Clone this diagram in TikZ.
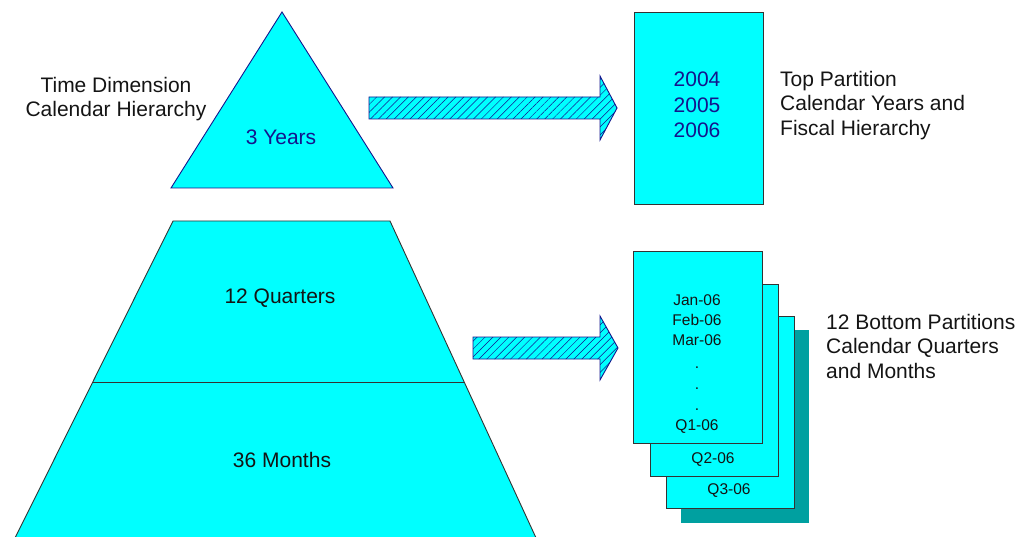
\documentclass[tikz,border=0pt]{standalone}
\usepackage{fontspec}
\setmainfont{Liberation Sans}
\usetikzlibrary{patterns.meta}
\definecolor{cy}{RGB}{0,255,255}
\definecolor{nv}{RGB}{20,20,140}
\definecolor{tl}{RGB}{0,160,160}
\definecolor{txt}{RGB}{20,20,20}
\tikzset{
  big/.style={font=\fontsize{21}{24.5}\selectfont, text=txt, align=left, inner sep=0pt},
  bigc/.style={big, align=center},
  small/.style={font=\fontsize{15.5}{20}\selectfont, text=txt, align=center, inner sep=0pt},
  blk/.style={draw=black!80, line width=0.9pt, fill=cy},
  blockarrow/.style={draw=nv, line width=0.9pt, preaction={fill=cy},
     pattern={Lines[angle=45,distance=5.6pt,line width=0.5pt]}, pattern color=nv},
}
\begin{document}
\begin{tikzpicture}[x=1pt,y=-1pt]
\useasboundingbox (0,0) rectangle (1016,537);
% triangle
\coordinate (tA) at (282,12);
\coordinate (tL) at (171,188);
\coordinate (tR) at (393,188);
\filldraw[draw=nv, line width=0.9pt, fill=cy] (tA) -- (tL) -- (tR) -- cycle;
\node[bigc, text=nv] (years) at (281,137) {3 Years};
\node[bigc] (tdim) at (116,99) {Time Dimension\\Calendar Hierarchy};
% trapezoid
\coordinate (zTL) at (173,221);
\coordinate (zTR) at (390,221);
\coordinate (zBL) at (14,540);
\coordinate (zBR) at (537,540);
\coordinate (zML) at (92,382);
\coordinate (zMR) at (464,382);
\fill[cy] (zTL) -- (zTR) -- (zBR) -- (zBL) -- cycle;
\draw[black!80, line width=0.9pt] (zBL) -- (zTL) -- (zTR) -- (zBR);
\draw[black!80, line width=0.9pt] (zML) -- (zMR);
\node[bigc] (quarters) at (280,298) {12 Quarters};
\node[bigc] (months) at (282,460) {36 Months};
% top partition
\node[blk, minimum width=129pt, minimum height=192pt, inner sep=0pt] (top) at (698.5,108) {};
\node[bigc, text=nv, font=\fontsize{21}{25.5}\selectfont] (yrs) at (697,105) {2004\\2005\\2006};
\node[big, anchor=west] (toplbl) at (780,105.5) {Top Partition\\Calendar Years and\\Fiscal Hierarchy};
% arrow 1
\path[blockarrow] (369,97) -- (600,97) -- (600,76) -- (617,108) -- (600,140) -- (600,119) -- (369,119) -- cycle;
% stack
\fill[tl] (681,330) rectangle (809,523);
\node[blk, minimum width=128pt, minimum height=192pt, inner sep=0pt] (p3) at (730,412.5) {};
\node[blk, minimum width=128pt, minimum height=192pt, inner sep=0pt] (p2) at (714,380) {};
\node[blk, minimum width=129pt, minimum height=192pt, inner sep=0pt] (p1) at (698,347) {};
\node[small] (months1) at (697,320) {Jan-06\\Feb-06\\Mar-06};
\node[small] (d1) at (697,368) {.};
\node[small] (d2) at (697,389) {.};
\node[small] (d3) at (697,410) {.};
\node[small] (q1) at (697,427) {Q1-06};
\node[small] (q2) at (713,460) {Q2-06};
\node[small] (q3) at (729,491) {Q3-06};
\node[big, anchor=west] (botlbl) at (826,346) {12 Bottom Partitions\\Calendar Quarters\\and Months};
% arrow 2
\path[blockarrow] (473,337) -- (600,337) -- (600,316) -- (618,348) -- (600,380) -- (600,359) -- (473,359) -- cycle;
\end{tikzpicture}
\end{document}
